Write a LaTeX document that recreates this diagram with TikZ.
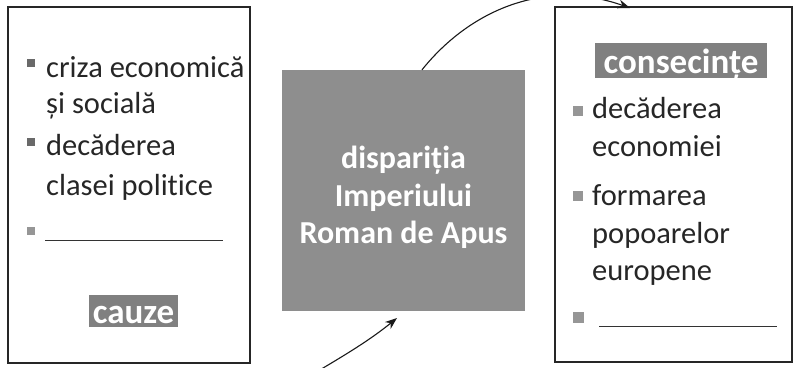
\documentclass[tikz,border=0pt]{standalone}
\usepackage{fontspec}
\setmainfont[Ligatures=NoCommon]{Carlito}
\usetikzlibrary{arrows.meta}
\definecolor{boxgray}{RGB}{142,142,142}
\definecolor{labgray}{RGB}{128,128,128}
\definecolor{bulletdark}{RGB}{105,105,105}
\definecolor{bulletlight}{RGB}{150,150,150}
\tikzset{
  frame/.style={draw=black!85, line width=1.2pt},
  itemtext/.style={anchor=base west, inner sep=0pt, text=black!85, font=\fontsize{30.5}{36}\selectfont},
  whitebold/.style={text=white, font=\fontsize{32}{38}\selectfont\bfseries},
  labeltext/.style={text=white, font=\fontsize{35}{40}\selectfont\bfseries},
  labelbox/.style={fill=labgray, inner sep=0pt},
  conn/.style={line width=1.1pt, draw=black!90, -{Stealth[length=12pt,width=9pt]}},
  blank/.style={line width=1pt, draw=black!80}
}
\begin{document}
\begin{tikzpicture}[x=1pt,y=-1pt]
\useasboundingbox (0,0) rectangle (797,367);
% left box (causes)
\node[frame, minimum width=242pt, minimum height=356pt, inner sep=0pt] (left) at (129,185) {};
\node[fill=bulletdark, minimum size=8pt, inner sep=0pt] (lb1) at (31,63) {};
\node[itemtext] (l1a) at (46,77) {criza economică};
\node[itemtext] (l1b) at (46,113) {și socială};
\node[fill=bulletdark, minimum size=8pt, inner sep=0pt] (lb2) at (31,142) {};
\node[itemtext] (l2a) at (46,155) {decăderea};
\node[itemtext] (l2b) at (46,195) {clasei politice};
\node[fill=bulletlight, minimum size=8pt, inner sep=0pt] (lb3) at (31,231) {};
\coordinate (l3s) at (45,240);
\coordinate (l3e) at (223,240);
\draw[blank] (l3s) -- (l3e);
\node[labelbox, minimum width=89pt, minimum height=32pt] (cauzebox) at (133.5,311) {};
\node[labeltext, anchor=base] (cauze) at (133.5,323) {cauze};
% center box
\node[fill=boxgray, minimum width=243pt, minimum height=241pt, inner sep=0pt] (center) at (403.5,190.5) {};
\node[whitebold, anchor=base] (c1) at (403.5,168) {dispariția};
\node[whitebold, anchor=base] (c2) at (403.5,206) {Imperiului};
\node[whitebold, anchor=base] (c3) at (403.5,243) {Roman de Apus};
% right box (consequences)
\node[frame, minimum width=237pt, minimum height=355pt, inner sep=0pt] (right) at (673.5,184.5) {};
\node[labelbox, minimum width=172pt, minimum height=35pt] (consbox) at (681,60.5) {};
\node[labeltext, anchor=base] (cons) at (681,73) {consecințe};
\node[fill=bulletlight, minimum size=10pt, inner sep=0pt] (rb1) at (578,110.5) {};
\node[itemtext] (r1a) at (592,118) {decăderea};
\node[itemtext] (r1b) at (592,156) {economiei};
\node[fill=bulletlight, minimum size=10pt, inner sep=0pt] (rb2) at (578,196) {};
\node[itemtext] (r2a) at (592,205) {formarea};
\node[itemtext] (r2b) at (592,243) {popoarelor};
\node[itemtext] (r2c) at (592,280) {europene};
\node[fill=bulletlight, minimum size=11pt, inner sep=0pt] (rb3) at (578.5,317.5) {};
\coordinate (r3s) at (599,326);
\coordinate (r3e) at (777,326);
\draw[blank] (r3s) -- (r3e);
% connectors
\coordinate (tailb) at (318,371);
\coordinate (tipb) at (397,318);
\draw[conn] (tailb) .. controls (345,355) and (370,340) .. (tipb);
\coordinate (tipt) at (630,8);
\draw[conn] (center.north -| 422,70) .. controls (470,10) and (545,-22) .. (tipt);
\end{tikzpicture}
\end{document}
